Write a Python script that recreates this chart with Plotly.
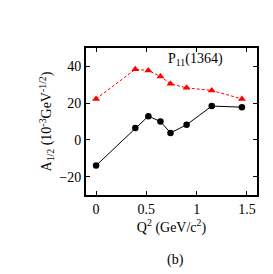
import plotly.graph_objects as go

q2 = [0.0, 0.39, 0.52, 0.64, 0.74, 0.90, 1.15, 1.45]
a_black = [-14.0, 6.4, 12.9, 10.0, 3.8, 8.2, 18.4, 17.8]
a_red = [22.3, 38.4, 37.8, 34.5, 30.5, 28.3, 26.9, 22.3]
x_ticks = [0, 0.5, 1, 1.5]
x_tick_labels = ["0", "0.5", "1", "1.5"]
y_ticks = [-20, 0, 20, 40]

font = "Liberation Serif, Times New Roman, serif"

fig = go.Figure()
fig.add_trace(go.Scatter(x=q2, y=a_red, mode="lines+markers",
                         line=dict(color="red", width=1, dash="3px,2px"),
                         marker=dict(symbol="triangle-up", size=7, color="red"),
                         showlegend=False))
fig.add_trace(go.Scatter(x=q2, y=a_black, mode="lines+markers",
                         line=dict(color="black", width=1),
                         marker=dict(symbol="circle", size=6.5, color="black"),
                         showlegend=False))

axis_common = dict(showgrid=False, zeroline=False, showline=True, linecolor="black",
                   linewidth=2, mirror="ticks", ticks="inside", ticklen=4,
                   tickcolor="black", tickwidth=1,
                   tickfont=dict(family=font, size=14, color="black"))

pw = 273 - 78 - 24
ph = 274 - 40 - 87

fig.update_layout(
    width=273, height=274,
    margin=dict(l=78, r=24, t=40, b=87),
    paper_bgcolor="white", plot_bgcolor="white",
    font=dict(family=font, color="black"),
    xaxis=dict(range=[-0.1, 1.6], tickvals=x_ticks, ticktext=x_tick_labels,
               title=dict(text="Q<sup>2</sup> (GeV/c<sup>2</sup>)", font=dict(family=font, size=14), standoff=4),
               **axis_common),
    yaxis=dict(range=[-30, 50], tickvals=y_ticks,
               title=dict(text="A<sub>1/2</sub> (10<sup>-3</sup>GeV<sup>-1/2</sup>)", font=dict(family=font, size=14), standoff=4),
               **axis_common),
    annotations=[
        dict(text="P<sub>11</sub>(1364)", x=(187 - 78) / pw, y=(274 - 87 - 51) / ph,
             xref="paper", yref="paper", yanchor="middle",
             showarrow=False, font=dict(family=font, size=14, color="black"), xanchor="center"),
        dict(text="(b)", x=(167 - 78) / pw, y=(274 - 87 - 252) / ph, xref="paper", yref="paper",
             showarrow=False, yanchor="middle",
             font=dict(family=font, size=14, color="black")),
    ],
)

fig.write_html("out.html")
